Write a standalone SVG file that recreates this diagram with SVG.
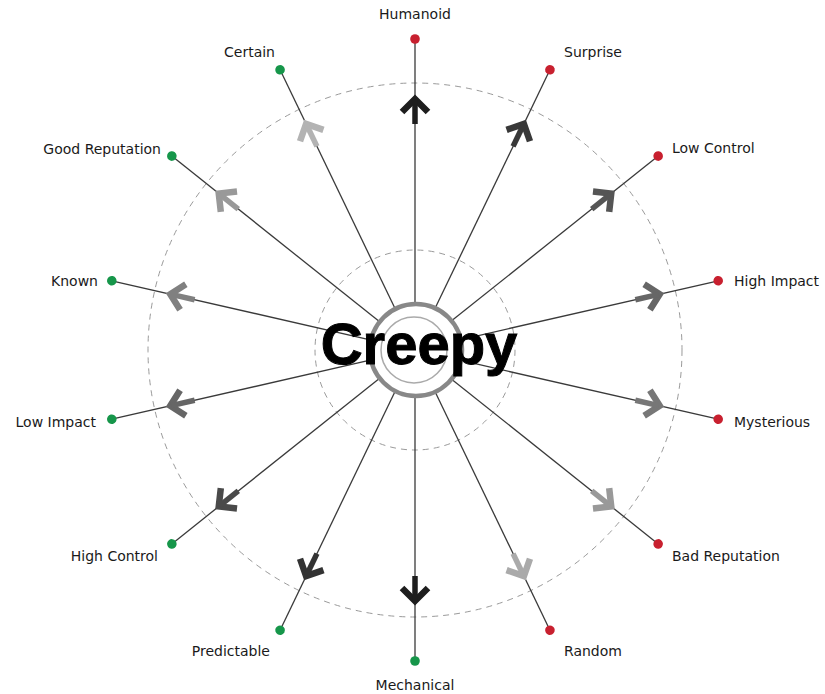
<svg xmlns="http://www.w3.org/2000/svg" xmlns:xlink="http://www.w3.org/1999/xlink" width="825" height="694" viewBox="0 0 825 694">
<style>
.dash{fill:none;stroke:#9a9a9a;stroke-width:1;stroke-dasharray:6 5}
.spoke{stroke:#3a3a3a;stroke-width:1.3}
.red{fill:#c8202f}
.green{fill:#16964a}
.lbl{font-family:"DejaVu Sans",sans-serif;font-size:14px;fill:#1a1a1a}
</style>
<defs>
<g id="arr">
<polyline points="-18,-13 -5,0 -18,13" fill="none" stroke-width="6.5" stroke-linejoin="miter" stroke-miterlimit="10"/>
<line x1="-6" y1="0" x2="-30" y2="0" stroke-width="5.5"/>
</g>
</defs>
<rect width="825" height="694" fill="#fff"/>
<circle class="dash" cx="415" cy="350" r="267"/>
<circle class="dash" cx="415" cy="350" r="100"/>
<g id="connectors">
<line class="spoke" x1="461" y1="350" x2="726" y2="350" transform="rotate(-90 415 350)"/>
<line class="spoke" x1="461" y1="350" x2="726" y2="350" transform="rotate(-64.286 415 350)"/>
<line class="spoke" x1="461" y1="350" x2="726" y2="350" transform="rotate(-38.571 415 350)"/>
<line class="spoke" x1="461" y1="350" x2="726" y2="350" transform="rotate(-12.857 415 350)"/>
<line class="spoke" x1="461" y1="350" x2="726" y2="350" transform="rotate(12.857 415 350)"/>
<line class="spoke" x1="461" y1="350" x2="726" y2="350" transform="rotate(38.571 415 350)"/>
<line class="spoke" x1="461" y1="350" x2="726" y2="350" transform="rotate(64.286 415 350)"/>
<line class="spoke" x1="461" y1="350" x2="726" y2="350" transform="rotate(90 415 350)"/>
<line class="spoke" x1="461" y1="350" x2="726" y2="350" transform="rotate(115.714 415 350)"/>
<line class="spoke" x1="461" y1="350" x2="726" y2="350" transform="rotate(141.429 415 350)"/>
<line class="spoke" x1="461" y1="350" x2="726" y2="350" transform="rotate(167.143 415 350)"/>
<line class="spoke" x1="461" y1="350" x2="726" y2="350" transform="rotate(192.857 415 350)"/>
<line class="spoke" x1="461" y1="350" x2="726" y2="350" transform="rotate(218.571 415 350)"/>
<line class="spoke" x1="461" y1="350" x2="726" y2="350" transform="rotate(244.286 415 350)"/>
</g>
<g id="humanoid">
<use xlink:href="#arr" stroke="#1e1e1e" transform="rotate(-90 415 350) translate(671 350)"/>
<circle class="red" cx="726" cy="350" r="4.8" transform="rotate(-90 415 350)"/>
<text class="lbl" x="415" y="19" text-anchor="middle">Humanoid</text>
</g>
<g id="surprise">
<use xlink:href="#arr" stroke="#383838" transform="rotate(-64.286 415 350) translate(671 350)"/>
<circle class="red" cx="726" cy="350" r="4.8" transform="rotate(-64.286 415 350)"/>
<text class="lbl" x="564" y="57">Surprise</text>
</g>
<g id="low-control">
<use xlink:href="#arr" stroke="#555" transform="rotate(-38.571 415 350) translate(671 350)"/>
<circle class="red" cx="726" cy="350" r="4.8" transform="rotate(-38.571 415 350)"/>
<text class="lbl" x="672" y="153">Low Control</text>
</g>
<g id="high-impact">
<use xlink:href="#arr" stroke="#666" transform="rotate(-12.857 415 350) translate(671 350)"/>
<circle class="red" cx="726" cy="350" r="4.8" transform="rotate(-12.857 415 350)"/>
<text class="lbl" x="734" y="286">High Impact</text>
</g>
<g id="mysterious">
<use xlink:href="#arr" stroke="#777" transform="rotate(12.857 415 350) translate(671 350)"/>
<circle class="red" cx="726" cy="350" r="4.8" transform="rotate(12.857 415 350)"/>
<text class="lbl" x="734" y="427">Mysterious</text>
</g>
<g id="bad-reputation">
<use xlink:href="#arr" stroke="#999" transform="rotate(38.571 415 350) translate(671 350)"/>
<circle class="red" cx="726" cy="350" r="4.8" transform="rotate(38.571 415 350)"/>
<text class="lbl" x="672" y="561">Bad Reputation</text>
</g>
<g id="random">
<use xlink:href="#arr" stroke="#aaa" transform="rotate(64.286 415 350) translate(671 350)"/>
<circle class="red" cx="726" cy="350" r="4.8" transform="rotate(64.286 415 350)"/>
<text class="lbl" x="564" y="656">Random</text>
</g>
<g id="mechanical">
<use xlink:href="#arr" stroke="#1e1e1e" transform="rotate(90 415 350) translate(671 350)"/>
<circle class="green" cx="726" cy="350" r="4.8" transform="rotate(90 415 350)"/>
<text class="lbl" x="415" y="690" text-anchor="middle">Mechanical</text>
</g>
<g id="predictable">
<use xlink:href="#arr" stroke="#333" transform="rotate(115.714 415 350) translate(671 350)"/>
<circle class="green" cx="726" cy="350" r="4.8" transform="rotate(115.714 415 350)"/>
<text class="lbl" x="270" y="656" text-anchor="end">Predictable</text>
</g>
<g id="high-control">
<use xlink:href="#arr" stroke="#4a4a4a" transform="rotate(141.429 415 350) translate(671 350)"/>
<circle class="green" cx="726" cy="350" r="4.8" transform="rotate(141.429 415 350)"/>
<text class="lbl" x="158" y="561" text-anchor="end">High Control</text>
</g>
<g id="low-impact">
<use xlink:href="#arr" stroke="#666" transform="rotate(167.143 415 350) translate(671 350)"/>
<circle class="green" cx="726" cy="350" r="4.8" transform="rotate(167.143 415 350)"/>
<text class="lbl" x="96" y="427" text-anchor="end">Low Impact</text>
</g>
<g id="known">
<use xlink:href="#arr" stroke="#808080" transform="rotate(192.857 415 350) translate(671 350)"/>
<circle class="green" cx="726" cy="350" r="4.8" transform="rotate(192.857 415 350)"/>
<text class="lbl" x="98" y="286" text-anchor="end">Known</text>
</g>
<g id="good-reputation">
<use xlink:href="#arr" stroke="#999" transform="rotate(218.571 415 350) translate(671 350)"/>
<circle class="green" cx="726" cy="350" r="4.8" transform="rotate(218.571 415 350)"/>
<text class="lbl" x="161" y="154" text-anchor="end">Good Reputation</text>
</g>
<g id="certain">
<use xlink:href="#arr" stroke="#b3b3b3" transform="rotate(244.286 415 350) translate(671 350)"/>
<circle class="green" cx="726" cy="350" r="4.8" transform="rotate(244.286 415 350)"/>
<text class="lbl" x="275" y="57" text-anchor="end">Certain</text>
</g>
<g id="creepy">
<circle cx="416" cy="350" r="46" fill="#fff" stroke="#888" stroke-width="4.5"/>
<circle cx="414" cy="350" r="33" fill="none" stroke="#aaa" stroke-width="1.5"/>
<text x="419" y="364" text-anchor="middle" font-family="'Liberation Sans',Arial,sans-serif" font-weight="bold" font-size="58" fill="#000" stroke="#000" stroke-width="1">Creepy</text>
</g>
</svg>
